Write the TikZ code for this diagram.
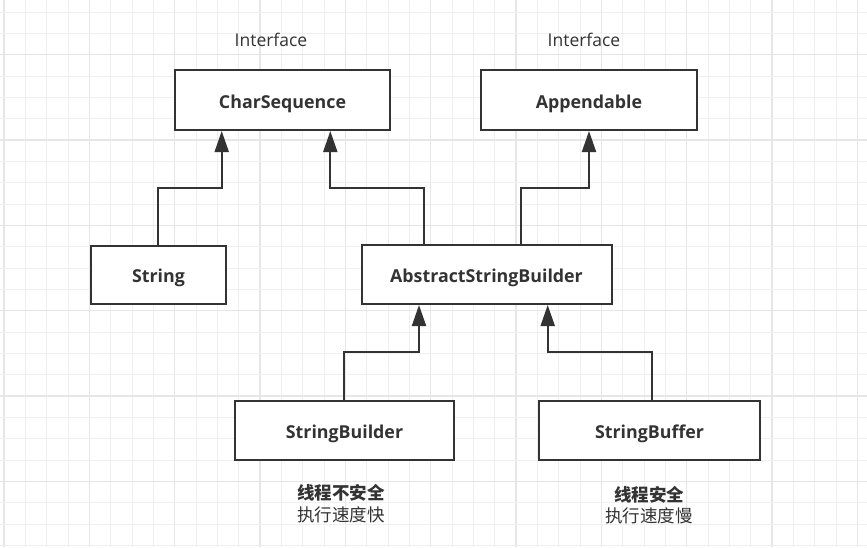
\documentclass[tikz,border=0pt]{standalone}
\usepackage{fontspec}
\setmainfont{Open Sans}
\newfontfamily\cjk{Noto Sans CJK SC}
\usetikzlibrary{arrows.meta}
\definecolor{ink}{HTML}{333333}
\definecolor{gridminor}{HTML}{EFEFEF}
\definecolor{gridmajor}{HTML}{E6E6E6}
\tikzset{
  cls/.style={draw=ink, line width=2pt, fill=white, text=ink, font=\fontsize{17.8}{20}\selectfont\bfseries, inner sep=0pt, text height=16.6pt, text depth=0pt},
  inh/.style={draw=ink, line width=2pt, -{Triangle[length=21pt 0, width=14pt 0]}},
  lbl/.style={text=ink, font=\fontsize{17.5}{20}\selectfont, inner sep=0pt},
  cjklbl/.style={text=ink, font=\cjk\fontsize{17.5}{20}\selectfont, inner sep=0pt}
}
\begin{document}
\begin{tikzpicture}[x=1pt,y=-1pt]
\useasboundingbox (0,0) rectangle (867,547);
\fill[white] (0,0) rectangle (867,547);
% grid
\foreach \k in {0,...,41}{
  \pgfmathsetmacro{\gx}{4+21.3333*\k}
  \pgfmathtruncatemacro{\m}{mod(\k,4)}
  \ifnum\m=0
    \draw[gridmajor, line width=1.1pt] (\gx,0) -- (\gx,547);
  \else
    \draw[gridminor, line width=1pt] (\gx,0) -- (\gx,547);
  \fi
}
\foreach \k in {0,...,25}{
  \pgfmathsetmacro{\gy}{12+21.3333*\k}
  \pgfmathtruncatemacro{\m}{mod(\k+2,4)}
  \ifnum\m=0
    \draw[gridmajor, line width=1.1pt] (0,\gy) -- (867,\gy);
  \else
    \draw[gridminor, line width=1pt] (0,\gy) -- (867,\gy);
  \fi
}
% boxes
\node[cls, minimum width=215pt, minimum height=60pt] (cs) at (282.5,100) {CharSequence};
\node[cls, minimum width=216pt, minimum height=60pt] (ap) at (589,100) {Appendable};
\node[cls, minimum width=135pt, minimum height=58pt] (st) at (158.5,274.5) {String};
\node[cls, minimum width=250pt, minimum height=59pt] (asb) at (486.5,274.5) {AbstractStringBuilder};
\node[cls, minimum width=219pt, minimum height=59pt] (sb) at (344.5,430.5) {StringBuilder};
\node[cls, minimum width=221pt, minimum height=59pt] (sbf) at (649.5,430.5) {StringBuffer};
% labels
\node[lbl] (i1) at (271,40) {Interface};
\node[lbl] (i2) at (584,40) {Interface};
\node[cjklbl, font=\cjk\bfseries\fontsize{17.5}{20}\selectfont] (n1) at (341,492.5) {线程不安全};
\node[cjklbl] (n2) at (341,514.5) {执行速度快};
\node[cjklbl, font=\cjk\bfseries\fontsize{17.5}{20}\selectfont] (n3) at (649,494.5) {线程安全};
\node[cjklbl] (n4) at (649,516) {执行速度慢};
% connectors
\draw[inh] (st.north -| 158.3,0) |- (221.7,187.7) -- (221.7,0 |- cs.south);
\draw[inh] (asb.north -| 424.3,0) |- (330.3,187.7) -- (330.3,0 |- cs.south);
\draw[inh] (asb.north -| 521,0) |- (589,187.7) -- (589,0 |- ap.south);
\draw[inh] (sb.north -| 344.3,0) |- (419,352.3) -- (419,0 |- asb.south);
\draw[inh] (sbf.north -| 652,0) |- (547.7,352.3) -- (547.7,0 |- asb.south);
\end{tikzpicture}
\end{document}
